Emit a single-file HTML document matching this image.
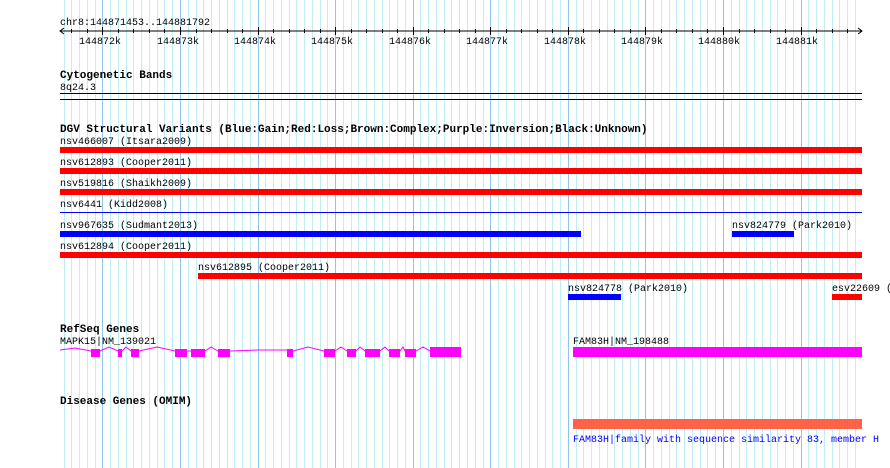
<!DOCTYPE html>
<html><head><style>
html,body{margin:0;padding:0;background:#fff;}
svg{display:block;font-family:"Liberation Mono","DejaVu Sans Mono",monospace;font-size:10px;}
.b{font-weight:bold;font-size:11px;}
</style></head><body>
<svg id="s" width="890" height="468" xmlns="http://www.w3.org/2000/svg">
<g id="grid"></g>
<text x="60" y="25">chr8:144871453..144881792</text>
<line x1="60" y1="31" x2="862" y2="31" stroke="#000"/>
<path d="M64,28 L60,31 L64,34 M858,28 L862,31 L858,34" stroke="#000" fill="none"/>
<g id="ticks" stroke="#000"></g>
<g font-size="10">
<text x="79" y="44">144872k</text><text x="157" y="44">144873k</text><text x="234" y="44">144874k</text><text x="311" y="44">144875k</text><text x="389" y="44">144876k</text><text x="466" y="44">144877k</text><text x="544" y="44">144878k</text><text x="621" y="44">144879k</text><text x="698" y="44">144880k</text><text x="776" y="44">144881k</text>
</g>
<text class="b" x="60" y="78">Cytogenetic Bands</text>
<text x="60" y="90">8q24.3</text>
<rect x="60" y="93" width="802" height="1" fill="#000"/>
<rect x="60" y="99" width="802" height="1" fill="#000"/>
<text class="b" x="60" y="132">DGV Structural Variants (Blue:Gain;Red:Loss;Brown:Complex;Purple:Inversion;Black:Unknown)</text>
<text x="60" y="144">nsv466007 (Itsara2009)</text>
<rect x="60" y="147" width="802" height="6" fill="#f00"/>
<text x="60" y="165">nsv612893 (Cooper2011)</text>
<rect x="60" y="168" width="802" height="6" fill="#f00"/>
<text x="60" y="186">nsv519816 (Shaikh2009)</text>
<rect x="60" y="189" width="802" height="6" fill="#f00"/>
<text x="60" y="207">nsv6441 (Kidd2008)</text>
<rect x="60" y="212" width="802" height="1" fill="#00f"/>
<text x="60" y="228">nsv967635 (Sudmant2013)</text>
<rect x="60" y="231" width="521" height="6" fill="#00f"/>
<text x="732" y="228">nsv824779 (Park2010)</text>
<rect x="732" y="231" width="62" height="6" fill="#00f"/>
<text x="60" y="249">nsv612894 (Cooper2011)</text>
<rect x="60" y="252" width="802" height="6" fill="#f00"/>
<text x="198" y="270">nsv612895 (Cooper2011)</text>
<rect x="198" y="273" width="664" height="6" fill="#f00"/>
<text x="568" y="291">nsv824778 (Park2010)</text>
<rect x="568" y="294" width="53" height="6" fill="#00f"/>
<text x="832" y="291">esv22609 (</text>
<rect x="832" y="294" width="30" height="6" fill="#f00"/>
<text class="b" x="60" y="332">RefSeq Genes</text>
<text x="60" y="344">MAPK15|NM_139021</text>
<polyline fill="none" stroke="#f0f" points="60,350 75,348 91,351 100,351 109,347 118,351 122,351 126,347 131,351 139,351 157,347 175,351 187,351 191,351 205,351 211,347 218,351 230,351 258,350 287,350 293,351 308,347 324,351 335,351 341,347 347,351 356,351 360,347 365,351 380,351 385,347 389,351 400,351 403,347 405,351 416,351 423,347 430,351"/>
<g fill="#f0f">
<rect x="91" y="349" width="9" height="8"/><rect x="118" y="349" width="4" height="8"/><rect x="131" y="349" width="8" height="8"/><rect x="175" y="349" width="12" height="8"/><rect x="191" y="349" width="14" height="8"/><rect x="218" y="349" width="12" height="8"/><rect x="287" y="349" width="6" height="8"/><rect x="324" y="349" width="11" height="8"/><rect x="347" y="349" width="9" height="8"/><rect x="365" y="349" width="15" height="8"/><rect x="389" y="349" width="11" height="8"/><rect x="405" y="349" width="11" height="8"/><rect x="430" y="347" width="31" height="10"/>
<rect x="573" y="347" width="289" height="10"/>
</g>
<text x="573" y="344">FAM83H|NM_198488</text>
<text class="b" x="60" y="404">Disease Genes (OMIM)</text>
<rect x="573" y="419" width="289" height="10" fill="#ff6347"/>
<text x="573" y="442" fill="#00f">FAM83H|family with sequence similarity 83, member H</text>
</svg>
<script>
var g=document.getElementById('grid'),t=document.getElementById('ticks'),ns='http://www.w3.org/2000/svg';
var k=802/10339;
for(var p=144871500;p<=144881792;p+=100){
 var x=Math.round(60+(p-144871453)*k)+0.5;
 var maj=(p%1000===0);
 var l=document.createElementNS(ns,'line');
 l.setAttribute('x1',x);l.setAttribute('x2',x);l.setAttribute('y1',0);l.setAttribute('y2',468);
 l.setAttribute('stroke',maj?'#8ec8e8':'#bfeef5');g.appendChild(l);
 if(p%200===0||maj){var m=document.createElementNS(ns,'line');
 m.setAttribute('x1',x);m.setAttribute('x2',x);m.setAttribute('y1',maj?27:29);m.setAttribute('y2',maj?35:33);t.appendChild(m);}
}
</script>
</body></html>
